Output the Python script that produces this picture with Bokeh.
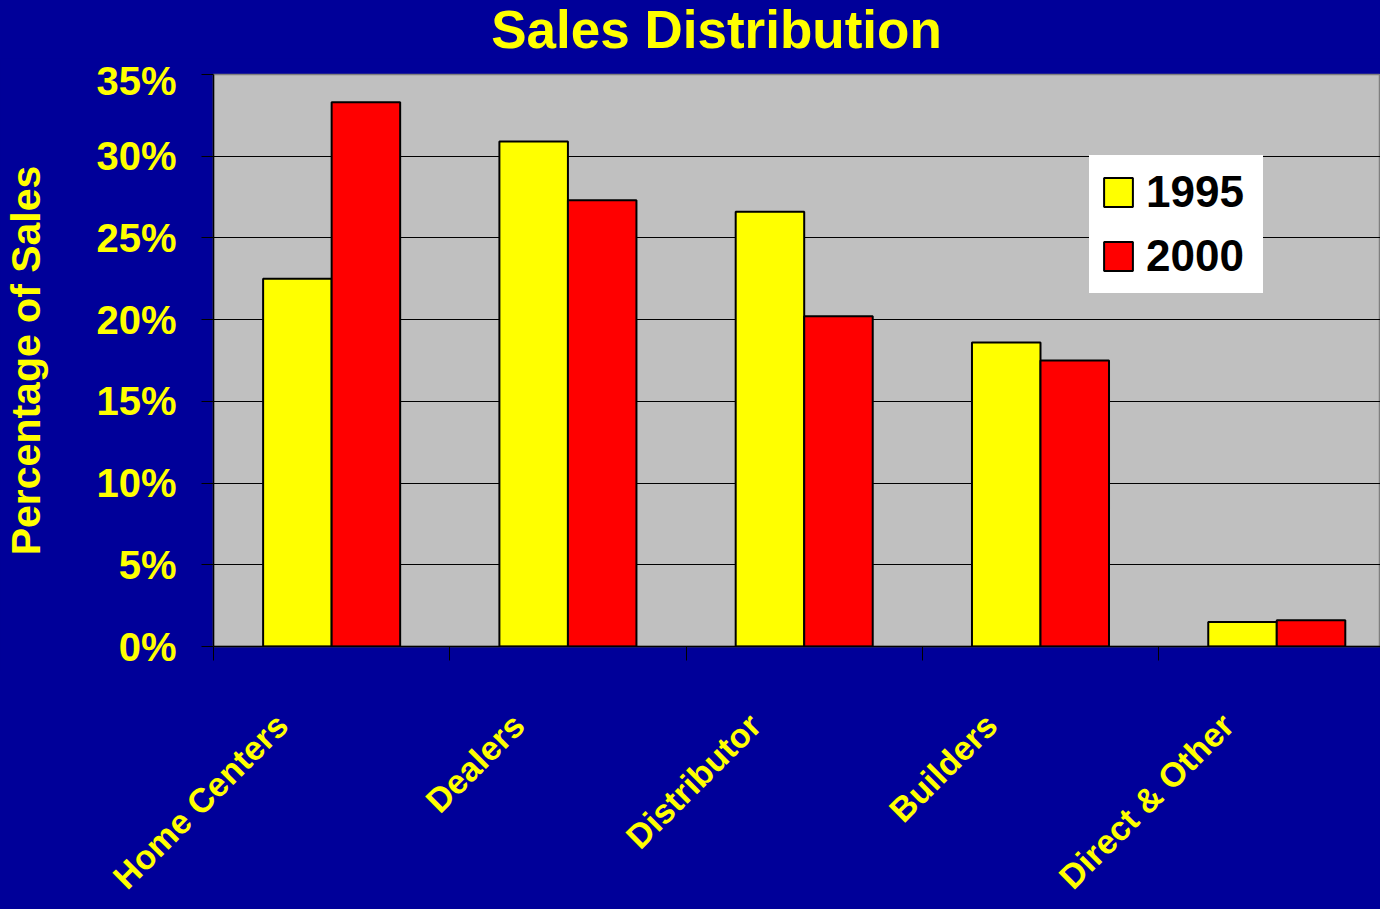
import math
from bokeh.plotting import figure
from bokeh.layouts import column
from bokeh.models import (Range1d, FixedTicker, PrintfTickFormatter, Legend, LegendItem,
                          GlobalInlineStyleSheet, CustomJSTickFormatter)
from bokeh.core.properties import value
from bokeh.embed import file_html
from bokeh.resources import INLINE

# ---- data ----
categories = ["Home Centers", "Dealers", "Distributor", "Builders", "Direct & Other"]
share_1995 = [22.5, 30.9, 26.6, 18.6, 1.5]
share_2000 = [33.3, 27.3, 20.2, 17.5, 1.6]
series_names = ["1995", "2000"]
y_ticks = [0, 5, 10, 15, 20, 25, 30, 35]
title_text = "Sales Distribution"
y_label = "Percentage of Sales"

# ---- style / layout ----
BG = "#000099"
PLOT_BG = "#C0C0C0"
YEL = "#FFFF00"
RED = "#FF0000"
FONT = "Liberation Sans"
W = 1380
FRAME_LEFT = 212
X_END = 4.939
PX_PER_UNIT = (W - FRAME_LEFT) / X_END
X_START_FULL = -FRAME_LEFT / PX_PER_UNIT
H0 = 58             # title strip
H1 = 612            # main plot (frame from page y 74 to 646)
H2 = 909 - H0 - H1  # category label strip
TOP_BORDER = 74 - H0
BOTTOM_BORDER = 24

CSS = GlobalInlineStyleSheet(css="html,body{background:#000099;margin:0;padding:0;overflow:hidden;}")


def strip(height, y_range):
    f = figure(width=W, height=height, output_backend="svg", toolbar_location=None,
               x_range=Range1d(X_START_FULL, X_END), y_range=y_range,
               x_axis_type=None, y_axis_type=None,
               min_border_left=0, min_border_right=0, min_border_top=0, min_border_bottom=0,
               border_fill_color=BG, background_fill_color=BG, outline_line_color=None,
               frame_align=False)
    f.xgrid.visible = False
    f.ygrid.visible = False
    return f


# ---- title strip ----
p0 = strip(H0, Range1d(0, H0))
title_x = (716 - FRAME_LEFT) / PX_PER_UNIT
p0.text(x=[title_x], y=[29.5], text=[title_text], text_align="center",
        text_baseline="alphabetic", text_font=value(FONT), text_font_size=value("53px"),
        text_font_style="bold", text_color=YEL)

# ---- main plot ----
p = figure(width=W, height=H1, output_backend="svg", toolbar_location=None,
           x_range=Range1d(0, X_END), y_range=Range1d(0, 35),
           min_border_left=FRAME_LEFT, min_border_right=0, min_border_top=TOP_BORDER,
           min_border_bottom=BOTTOM_BORDER,
           border_fill_color=BG, background_fill_color=PLOT_BG,
           outline_line_color="#808080", outline_line_width=1.5,
           frame_align=False, stylesheets=[CSS])

idx = list(range(len(categories)))
bar_w = 0.29
x95 = [i + 0.5 - bar_w / 2 for i in idx]
x00 = [i + 0.5 + bar_w / 2 for i in idx]

r1 = p.vbar(x=x95, top=share_1995, width=bar_w, fill_color=YEL, line_color="black", line_width=2)
r2 = p.vbar(x=x00, top=share_2000, width=bar_w, fill_color=RED, line_color="black", line_width=2)

# y axis
ya = p.yaxis[0]
ya.ticker = FixedTicker(ticks=y_ticks)
ya.formatter = PrintfTickFormatter(format="%d%%")
ya.major_label_text_font = FONT
ya.major_label_text_font_size = "40px"
ya.major_label_text_font_style = "bold"
ya.major_label_text_color = YEL
ya.major_tick_out = 12
ya.major_tick_in = 0
ya.major_tick_line_color = "black"
ya.minor_tick_line_color = None
ya.axis_line_color = "black"
ya.axis_line_width = 1.5
ya.major_label_standoff = 25
ya.axis_label = y_label
ya.axis_label_text_font = FONT
ya.axis_label_text_font_size = "41px"
ya.axis_label_text_font_style = "bold"
ya.axis_label_text_color = YEL
ya.axis_label_standoff = 44

# x axis: tick marks between categories, no labels here
xa = p.xaxis[0]
xa.ticker = FixedTicker(ticks=idx)
xa.formatter = CustomJSTickFormatter(code="return ''")
xa.major_tick_line_color = "black"
xa.major_tick_out = 14
xa.major_tick_in = 0
xa.major_label_standoff = 0
xa.minor_tick_line_color = None
xa.axis_line_color = "black"
xa.axis_line_width = 1.5

# grid
p.xgrid.visible = False
p.ygrid.grid_line_color = "black"
p.ygrid.grid_line_width = 1

# legend
legend = Legend(items=[LegendItem(label=series_names[0], renderers=[r1]),
                       LegendItem(label=series_names[1], renderers=[r2])],
                location=(876, 353),
                background_fill_color="white", background_fill_alpha=1.0,
                border_line_color="white", border_line_width=1,
                label_text_font=FONT, label_text_font_size="44px",
                label_text_font_style="bold", label_text_color="black",
                glyph_width=36, glyph_height=36, padding=10, spacing=12,
                label_standoff=10, label_width=106, label_height=52, margin=0)
p.add_layout(legend)

# ---- category label strip (same horizontal scale as the plot) ----
p2 = strip(H2, Range1d(-(BOTTOM_BORDER + H2), -BOTTOM_BORDER))
p2.text(x=[i + 0.5 - 0.207 for i in idx], y=[-73] * len(idx), text=categories,
        angle=math.pi / 4, text_align="right", text_baseline="middle",
        text_font=value(FONT), text_font_size=value("34px"), text_font_style="bold",
        text_color=YEL)

layout = column(p0, p, p2, spacing=0)
open("out.html", "w").write(file_html(layout, INLINE))
